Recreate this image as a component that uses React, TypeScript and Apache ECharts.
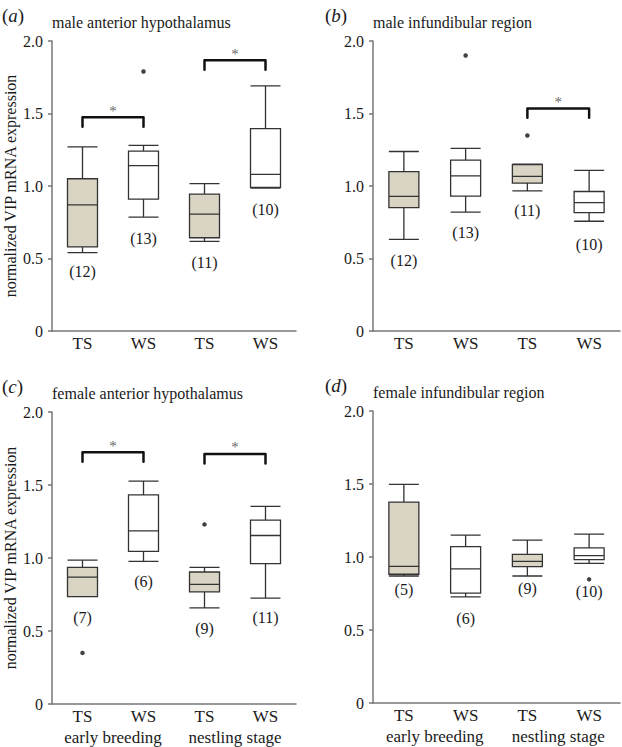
import React, { useEffect, useRef } from 'react';
import * as echarts from 'echarts';

const categories = ['TS', 'WS', 'TS', 'WS'];
const groupLabels = ['early breeding', 'nestling stage'];
const yAxisName = 'normalized VIP mRNA expression';

// [min, Q1, median, Q3, max]
const boxesA = [
  [0.54, 0.58, 0.87, 1.05, 1.27],
  [0.785, 0.91, 1.14, 1.24, 1.28],
  [0.618, 0.643, 0.806, 0.944, 1.017],
  [0.985, 0.99, 1.08, 1.396, 1.69],
];
const boxesB = [
  [0.632, 0.851, 0.928, 1.099, 1.238],
  [0.82, 0.93, 1.07, 1.179, 1.259],
  [0.967, 1.02, 1.067, 1.147, 1.15],
  [0.757, 0.816, 0.885, 0.962, 1.108],
];
const boxesC = [
  [0.736, 0.736, 0.869, 0.936, 0.986],
  [0.977, 1.046, 1.186, 1.433, 1.527],
  [0.658, 0.768, 0.819, 0.904, 0.936],
  [0.725, 0.961, 1.154, 1.259, 1.353],
];
const boxesD = [
  [0.87, 0.882, 0.936, 1.376, 1.497],
  [0.727, 0.752, 0.918, 1.071, 1.15],
  [0.87, 0.934, 0.97, 1.018, 1.116],
  [0.957, 0.982, 1.009, 1.062, 1.157],
];

// outliers: [category index, value]
const outliersA = [[1, 1.79]];
const outliersB = [[1, 1.9], [2, 1.348]];
const outliersC = [[0, 0.35], [2, 1.23]];
const outliersD = [[3, 0.847]];

// sample sizes and the value at which each is written
const nA = [12, 13, 11, 10];
const nB = [12, 13, 11, 10];
const nC = [7, 6, 9, 11];
const nD = [5, 6, 9, 10];
const nAtA = [0.41, 0.64, 0.475, 0.84];
const nAtB = [0.486, 0.68, 0.828, 0.6];
const nAtC = [0.59, 0.84, 0.52, 0.59];
const nAtD = [0.775, 0.58, 0.786, 0.763];

// significance brackets: [from, to, level]
const bracketsA = [[0, 1, 1.474], [2, 3, 1.867]];
const bracketsB = [[2, 3, 1.535]];
const bracketsC = [[0, 1, 1.725], [2, 3, 1.713]];
const bracketsD: number[][] = [];

const FONT = "'Liberation Serif', 'Times New Roman', serif";
const TEXT = '#1a1a1a';
const AXIS = '#777';
const BEIGE = '#d9d4c3';

const panels = [
  { letter: 'a', title: 'male anterior hypothalamus', boxes: boxesA, outliers: outliersA, n: nA, nAt: nAtA, brackets: bracketsA, left: 52, top: 41, width: 244, height: 290, yName: true, groups: false },
  { letter: 'b', title: 'male infundibular region', boxes: boxesB, outliers: outliersB, n: nB, nAt: nAtB, brackets: bracketsB, left: 373, top: 41, width: 247, height: 290, yName: false, groups: false },
  { letter: 'c', title: 'female anterior hypothalamus', boxes: boxesC, outliers: outliersC, n: nC, nAt: nAtC, brackets: bracketsC, left: 52, top: 412, width: 244, height: 292, yName: true, groups: true },
  { letter: 'd', title: 'female infundibular region', boxes: boxesD, outliers: outliersD, n: nD, nAt: nAtD, brackets: bracketsD, left: 373, top: 411, width: 247, height: 292, yName: false, groups: true },
];

function textSeries(xIdx: number, yIdx: number, points: number[][], texts: string[], size: number, color: string) {
  return {
    type: 'custom', xAxisIndex: xIdx, yAxisIndex: yIdx, silent: true,
    data: points,
    renderItem: (params: any, api: any) => {
      const pt = api.coord([api.value(0), api.value(1)]);
      return {
        type: 'text', x: pt[0], y: pt[1],
        style: { text: texts[params.dataIndex], fill: color, fontSize: size, fontFamily: FONT, align: 'center', verticalAlign: 'middle' },
      };
    },
  };
}

function buildOption() {
  const grid: any[] = [];
  const xAxis: any[] = [];
  const yAxis: any[] = [];
  const series: any[] = [];
  const title: any[] = [];

  panels.forEach((p) => {
    const gi = grid.length;
    grid.push({ left: p.left, top: p.top, width: p.width, height: p.height });
    const catIdx = xAxis.length;
    xAxis.push({
      gridIndex: gi, type: 'category', data: categories, position: 'bottom', boundaryGap: true,
      axisLine: { show: true, onZero: false, lineStyle: { color: AXIS, width: 1.5 } },
      axisTick: { show: false },
      axisLabel: { fontSize: 17, color: TEXT, fontFamily: FONT, margin: 4, interval: 0 },
      splitLine: { show: false },
    });
    const valIdx = xAxis.length;
    xAxis.push({ gridIndex: gi, type: 'value', min: -0.5, max: 3.5, position: 'top', show: false, axisLine: { onZero: false } });
    const yIdx = yAxis.length;
    yAxis.push({
      gridIndex: gi, type: 'value', min: 0, max: 2, interval: 0.5, position: 'left',
      axisLine: { show: true, onZero: false, lineStyle: { color: AXIS, width: 1.5 } },
      axisTick: { show: true, length: 4, lineStyle: { color: AXIS, width: 1.5 } },
      splitLine: { show: false },
      axisLabel: { fontSize: 16, color: TEXT, fontFamily: FONT, margin: 9, formatter: (v: number) => (v === 0 ? '0' : v.toFixed(1)) },
      name: p.yName ? yAxisName : '',
      nameLocation: 'middle', nameRotate: 90, nameGap: 34,
      nameTextStyle: { fontSize: 16, color: TEXT, fontFamily: FONT },
    });

    series.push({
      type: 'boxplot', xAxisIndex: catIdx, yAxisIndex: yIdx, boxWidth: [30, 30], silent: true,
      itemStyle: { borderColor: '#333', borderWidth: 1.3 },
      data: p.boxes.map((b, j) => ({ value: b, itemStyle: { color: j % 2 === 0 ? BEIGE : '#ffffff', borderColor: '#333', borderWidth: 1.3 } })),
    });
    series.push({
      type: 'scatter', xAxisIndex: valIdx, yAxisIndex: yIdx, symbolSize: 4.5, silent: true,
      itemStyle: { color: '#111' }, data: p.outliers,
    });
    series.push(textSeries(valIdx, yIdx, p.nAt.map((y, j) => [j, y]), p.n.map((v) => `(${v})`), 16, TEXT));

    p.brackets.forEach((br) => {
      const [a, b, lv] = br;
      series.push({
        type: 'line', xAxisIndex: valIdx, yAxisIndex: yIdx, symbol: 'none', silent: true,
        lineStyle: { color: '#111', width: 2.5, join: 'round', cap: 'round' },
        data: [[a, lv - 0.065], [a, lv], [b, lv], [b, lv - 0.065]],
      });
    });
    if (p.brackets.length) {
      series.push(textSeries(valIdx, yIdx, p.brackets.map((br) => [(br[0] + br[1]) / 2, br[2] + 0.045]), p.brackets.map(() => '*'), 15, '#6a6a6a'));
    }

    if (p.groups) {
      const g2 = grid.length;
      grid.push({ left: p.left, top: p.top, width: p.width, height: p.height });
      xAxis.push({
        gridIndex: g2, type: 'category', data: groupLabels, position: 'bottom',
        axisLine: { show: false }, axisTick: { show: false }, splitLine: { show: false },
        axisLabel: { fontSize: 17, color: TEXT, fontFamily: FONT, margin: 25, interval: 0 },
      });
      yAxis.push({ gridIndex: g2, type: 'value', min: 0, max: 2, show: false });
    }

    const lx = p.left < 100 ? 2 : 325;
    title.push({
      text: `({i|${p.letter}})`, left: lx, top: p.top - 35, padding: 0,
      textStyle: { fontSize: 19, fontWeight: 'normal', color: TEXT, fontFamily: FONT, rich: { i: { fontStyle: 'italic', fontSize: 19, fontFamily: FONT, color: TEXT } } },
    });
    title.push({
      text: p.title, left: p.left, top: p.top - 27, padding: 0,
      textStyle: { fontSize: 16, fontWeight: 'normal', color: TEXT, fontFamily: FONT },
    });
  });

  return { animation: false, backgroundColor: '#fff', textStyle: { fontFamily: FONT }, title, grid, xAxis, yAxis, series };
}

export default function App() {
  const ref = useRef<HTMLDivElement>(null);
  useEffect(() => {
    if (!ref.current) return;
    const chart = echarts.init(ref.current, undefined, { renderer: 'svg' });
    chart.setOption(buildOption() as any);
    return () => chart.dispose();
  }, []);
  return <div ref={ref} style={{ position: 'absolute', left: 0, top: 0, width: 622, height: 747 }} />;
}
